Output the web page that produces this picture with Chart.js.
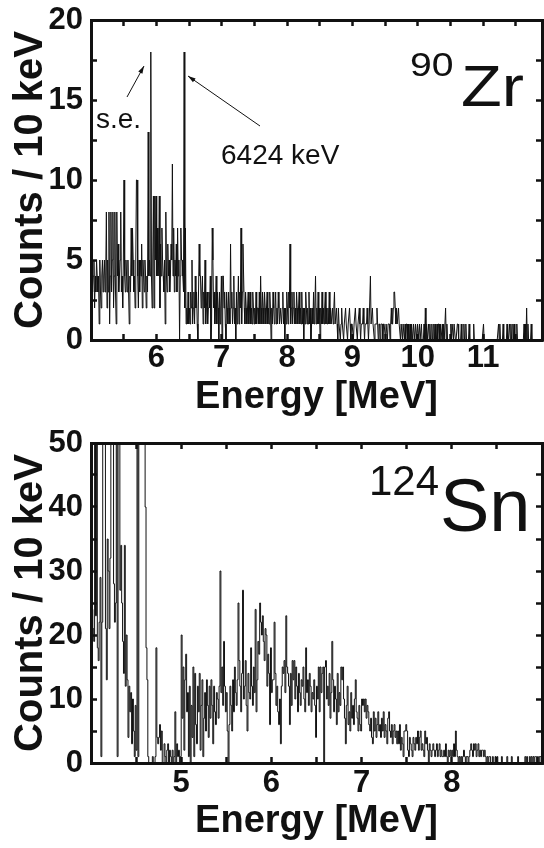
<!DOCTYPE html>
<html>
<head>
<meta charset="utf-8">
<script src="https://cdn.jsdelivr.net/npm/chart.js@4.4.1/dist/chart.umd.min.js"></script>
<style>
  body { margin: 0; background: #fff; }
  canvas { display: block; }
</style>
</head>
<body>
<canvas id="graf-zr" width="544" height="424"></canvas>
<canvas id="graf-sn" width="544" height="424"></canvas>
<script>
const anchoBin = 0.01 // 10 keV por canal

// 90Zr: cuentas por canal desde 5.00 MeV
const zrInicio = 5.0
const zrCuentas = [
  7,5,3,4,5,2,4,3,5,4,  3,4,1,5,3,2,4,5,3,4,  5,3,4,8,2,5,3,8,1,4,  8,3,5,8,2,4,8,3,1,8,
  4,6,3,4,5,8,3,4,2,5,  10,4,3,5,4,3,5,3,1,4, 3,7,4,7,5,3,4,2,5,10, 10,4,2,5,3,5,4,6,2,5,
  4,3,5,4,2,4,3,13,4,5, 4,18,4,2,5,9,2,9,5,9, 4,7,4,5,9,2,6,4,7,5,  4,3,5,1,8,4,3,6,4,5,
  3,4,6,5,11,4,7,3,5,4, 6,3,7,4,5,0,4,7,5,5,  4,3,18,2,7,1,2,1,3,1, 2,1,3,2,5,1,2,3,1,4,
  2,3,1,0,3,6,4,4,2,3,  4,1,3,2,5,1,2,3,1,2,  3,2,4,0,1,7,5,2,3,1,  2,4,1,3,2,0,3,1,2,4,
  0,4,4,2,3,1,0,3,2,1,  3,2,1,6,2,3,1,2,4,1,  2,0,3,1,2,4,1,3,2,7,  1,3,6,4,2,1,3,2,1,2,
  3,1,2,3,1,2,1,3,2,1,  2,1,3,1,2,2,1,3,1,4,  2,1,3,2,1,3,2,1,2,3,  1,2,1,3,2,0,2,1,3,2,
  1,2,3,1,2,1,3,2,1,2,  2,1,2,3,1,2,0,2,1,3,  2,1,3,2,6,1,2,3,1,2,  3,1,2,1,3,2,1,2,3,1,
  2,1,3,1,2,0,2,1,3,2,  1,2,1,3,1,2,0,1,2,1,  3,1,2,4,1,2,1,3,1,2,  0,2,1,3,1,2,1,2,3,1,
  2,1,2,1,3,1,2,1,1,2,  1,2,3,1,1,2,1,0,2,1,  1,0,1,2,1,1,0,1,1,2,  1,1,0,1,1,2,1,0,1,1,
  1,0,1,1,2,1,1,0,1,1,  2,1,0,1,1,1,2,1,0,1,  1,1,2,1,0,1,1,4,1,1,  2,1,1,0,1,1,1,2,1,0,
  1,1,0,1,1,1,0,1,1,1,  0,1,1,0,1,1,1,0,1,2,  1,1,2,3,3,2,1,2,1,1,  2,1,1,0,1,1,0,1,1,0,
  1,0,1,1,0,1,0,0,1,0,  1,0,0,1,0,0,1,0,0,1,  0,0,1,0,0,1,0,0,0,1,  0,2,0,1,0,0,1,0,1,0,
  0,1,0,0,1,0,1,0,0,1,  0,1,1,0,1,0,0,1,0,1,  0,0,2,0,1,0,0,0,0,0,  1,0,1,1,0,1,1,0,0,0,
  1,1,0,0,0,0,1,0,0,0,  1,0,0,1,0,0,0,0,1,0,  0,0,0,0,0,1,0,0,0,0,  0,0,0,0,0,0,0,0,0,0,
  1,0,0,0,0,0,0,0,0,0,  0,0,0,0,0,0,0,0,0,0,  0,0,0,1,0,1,0,0,0,0,  1,0,0,0,0,0,1,0,0,0,
  1,0,1,0,0,1,0,1,0,0,  0,1,0,0,0,0,0,0,0,0,  0,0,1,0,1,0,2,0,1,0,  0,0,0,1,0,0,0,0,0,0,
  0,0,0,0,0,0,0,0,0,0
]

// 124Sn: cuentas por canal desde 4.00 MeV
const snInicio = 4.0
const snCuentas = [
  30,24,21,19,60,23,70,18,16,22,  29,1,22,70,90,60,21,13,35,30,  21,32,80,120,70,28,22,25,60,1,
  80,60,27,34,25,19,14,34,12,20,  13,4,12,8,11,3,10,5,1,9,  2,70,1,90,160,240,280,240,170,90,
  40,18,13,1,0,0,0,0,1,0,  0,1,18,4,3,4,6,2,5,0,  0,3,1,0,2,3,0,2,1,0,  2,0,1,8,0,3,1,2,0,1,
  20,7,15,2,13,17,8,11,1,12,  0,9,4,15,1,14,6,3,12,8,  14,2,9,13,1,7,11,5,13,9,
  4,12,7,13,9,3,12,8,6,11,  10,7,12,30,11,15,9,19,12,8,  11,5,0,6,12,9,5,13,8,15,
  11,9,13,25,16,12,8,14,27,10,  12,16,9,5,14,11,10,18,12,9,  15,11,24,8,13,19,17,25,22,20,
  23,19,16,21,20,12,17,14,6,18,  11,13,13,22,14,9,12,8,6,10,  3,12,15,14,16,11,23,15,14,12,
  6,14,9,16,13,16,10,15,12,8,  14,11,9,13,12,15,10,8,18,11,  13,9,14,12,8,11,10,13,9,4,
  12,10,15,8,15,11,14,15,0,15,  16,10,12,9,14,7,11,19,13,8,  12,10,6,14,8,11,9,15,13,15,
  10,7,3,9,12,6,8,5,11,7,  9,6,10,13,8,7,5,9,6,5,  10,9,10,8,10,7,9,8,6,5,
  7,4,3,8,5,7,4,6,8,5,  6,4,7,5,8,4,6,5,3,7,  8,5,4,6,3,5,6,4,5,3,
  5,3,6,2,4,3,1,5,5,6,  5,2,1,4,3,2,1,4,3,2,  4,3,5,2,4,5,2,3,2,1,
  5,3,4,2,0,3,2,1,2,3,  2,1,2,3,1,2,3,1,2,1,  1,2,1,3,1,0,2,1,2,1,
  2,1,3,1,5,2,1,0,1,0,  1,0,1,2,1,0,1,1,0,1,  2,3,2,1,3,2,3,1,2,3,
  1,2,1,2,2,1,2,1,0,1,  0,1,1,0,0,1,0,0,1,0,  1,0,0,0,0,1,0,0,0,0,
  0,1,0,0,0,0,1,0,0,0,  0,0,0,1,0,0,0,0,0,0,  0,1,0,1,0,0,1,0,1,0,
  1,0,1,1,0,1,0,1,1,0
]

const zrTicksX = [6, 7, 8, 9, 10, 11]
const zrTicksY = [0, 5, 10, 15, 20]
const snTicksX = [5, 6, 7, 8]
const snTicksY = [0, 10, 20, 30, 40, 50]

const fuente = "'Liberation Sans', Arial, Helvetica, sans-serif"
const negro = '#111'
const marca = -6 // marcas hacia adentro del marco

// un punto por canal; con escalones se toma el borde izquierdo y se cierra el ultimo canal
function puntos(inicio, cuentas, escalon) {
  const pts = cuentas.map((c, i) => ({ x: inicio + (i + (escalon ? 0 : 0.5)) * anchoBin, y: c }))
  if (escalon) pts.push({ x: inicio + cuentas.length * anchoBin, y: cuentas[cuentas.length - 1] })
  return pts
}

// valores de marca cada "paso" dentro del rango de la escala
function marcas(s, paso) {
  const out = []
  for (let i = Math.ceil(s.min / paso); i * paso <= s.max; i++) out.push({ value: i * paso })
  s.ticks = out
}

// tamaño fijo de cada eje, sin relleno extra por etiquetas que sobresalen
function fijar(s, alto, ancho) {
  if (alto !== null) s.height = alto
  if (ancho !== null) s.width = ancho
  s.paddingLeft = s.paddingRight = s.paddingTop = s.paddingBottom = 0
}

function flecha(ctx, x0, y0, x1, y1) {
  const ang = Math.atan2(y1 - y0, x1 - x0)
  ctx.lineWidth = 1
  ctx.beginPath()
  ctx.moveTo(x0, y0)
  ctx.lineTo(x1, y1)
  ctx.stroke()
  ctx.beginPath()
  ctx.moveTo(x1, y1)
  ctx.lineTo(x1 - 8 * Math.cos(ang - 0.3), y1 - 8 * Math.sin(ang - 0.3))
  ctx.lineTo(x1 - 8 * Math.cos(ang + 0.3), y1 - 8 * Math.sin(ang + 0.3))
  ctx.closePath()
  ctx.fill()
}

const grilla = { display: true, drawOnChartArea: false, drawTicks: true, tickLength: marca, tickWidth: 2.5, tickColor: negro }
const borde = { display: true, width: 3, color: negro }
const sinEtiquetas = { display: false, callback: () => '' }

function espectro(id, inicio, cuentas, cfg) {
  // isotopo y anotaciones dentro del area
  const rotulos = {
    id: 'rotulos',
    afterDraw(chart) {
      const ctx = chart.ctx
      ctx.save()
      ctx.fillStyle = negro
      ctx.strokeStyle = negro
      ctx.textBaseline = 'alphabetic'
      ctx.textAlign = 'left'
      for (const t of cfg.textos) {
        ctx.save()
        ctx.translate(t.x, t.y)
        ctx.scale(t.estirar || 1, 1)
        ctx.font = t.tam + 'px ' + fuente
        ctx.fillText(t.texto, 0, 0)
        ctx.restore()
      }
      for (const f of cfg.flechas) flecha(ctx, f[0], f[1], f[2], f[3])
      ctx.restore()
    }
  }

  return new Chart(id, {
    type: 'line',
    data: {
      datasets: [{
        data: puntos(inicio, cuentas, cfg.escalon),
        stepped: cfg.escalon,
        borderColor: negro,
        borderWidth: 1,
        pointRadius: 0,
        fill: false
      }]
    },
    options: {
      responsive: false,
      animation: false,
      events: [],
      layout: { padding: { top: cfg.arriba, right: 2, left: 0, bottom: 0 } },
      plugins: {
        legend: { display: false },
        tooltip: { enabled: false }
      },
      scales: {
        x: {
          type: 'linear',
          min: inicio,
          max: cfg.xMax,
          grid: grilla,
          border: borde,
          afterBuildTicks: s => marcas(s, 0.5),
          afterFit: s => fijar(s, cfg.altoX, null),
          ticks: {
            color: negro, padding: cfg.padX, maxRotation: 0, autoSkip: false,
            callback: v => cfg.ticksX.includes(v) ? String(v) : '',
            font: { family: fuente, size: 31, weight: 'bold', lineHeight: 1 }
          },
          title: {
            display: true, text: 'Energy [MeV]', color: negro,
            font: { family: fuente, size: 38, weight: 'bold', lineHeight: 1 },
            padding: { top: 0, bottom: 7 }
          }
        },
        x2: {
          type: 'linear',
          axis: 'x',
          position: 'top',
          min: inicio,
          max: cfg.xMax,
          grid: grilla,
          border: borde,
          afterBuildTicks: s => marcas(s, 0.5),
          afterFit: s => fijar(s, 0, null),
          ticks: sinEtiquetas
        },
        y: {
          min: 0,
          max: cfg.yMax,
          grid: grilla,
          border: borde,
          afterBuildTicks: s => marcas(s, cfg.pasoY),
          afterFit: s => fijar(s, null, 91),
          ticks: {
            color: negro, padding: 14, autoSkip: false,
            callback: v => cfg.ticksY.includes(v) ? String(v) : '',
            font: { family: fuente, size: 31, weight: 'bold' }
          },
          title: {
            display: true, text: 'Counts / 10 keV', color: negro,
            font: { family: fuente, size: 40, weight: 'bold', lineHeight: 1 },
            padding: { top: 11, bottom: 0 }
          }
        },
        y2: {
          axis: 'y',
          position: 'right',
          min: 0,
          max: cfg.yMax,
          grid: grilla,
          border: borde,
          afterBuildTicks: s => marcas(s, cfg.pasoY),
          afterFit: s => fijar(s, null, 0),
          ticks: sinEtiquetas
        }
      }
    },
    plugins: [rotulos]
  })
}

espectro('graf-zr', zrInicio, zrCuentas, {
  xMax: 11.9, yMax: 20, ticksX: zrTicksX, ticksY: zrTicksY, escalon: false,
  arriba: 20, altoX: 84, padX: 9, pasoY: 2.5,
  textos: [
    { texto: '90', tam: 34, x: 410, y: 76, estirar: 1.15 },
    { texto: 'Zr', tam: 58, x: 461, y: 106, estirar: 1.15 },
    { texto: 's.e.', tam: 28, x: 96, y: 128 },
    { texto: '6424 keV', tam: 28, x: 221, y: 164 }
  ],
  flechas: [[127, 97, 144, 66], [260, 126, 188, 76]]
})

espectro('graf-sn', snInicio, snCuentas, {
  xMax: 9.0, yMax: 50, ticksX: snTicksX, ticksY: snTicksY, escalon: true,
  arriba: 19, altoX: 85, padX: 11, pasoY: 5,
  textos: [
    { texto: '124', tam: 42, x: 369, y: 71 },
    { texto: 'Sn', tam: 74, x: 440, y: 107 }
  ],
  flechas: []
})
</script>
</body>
</html>
